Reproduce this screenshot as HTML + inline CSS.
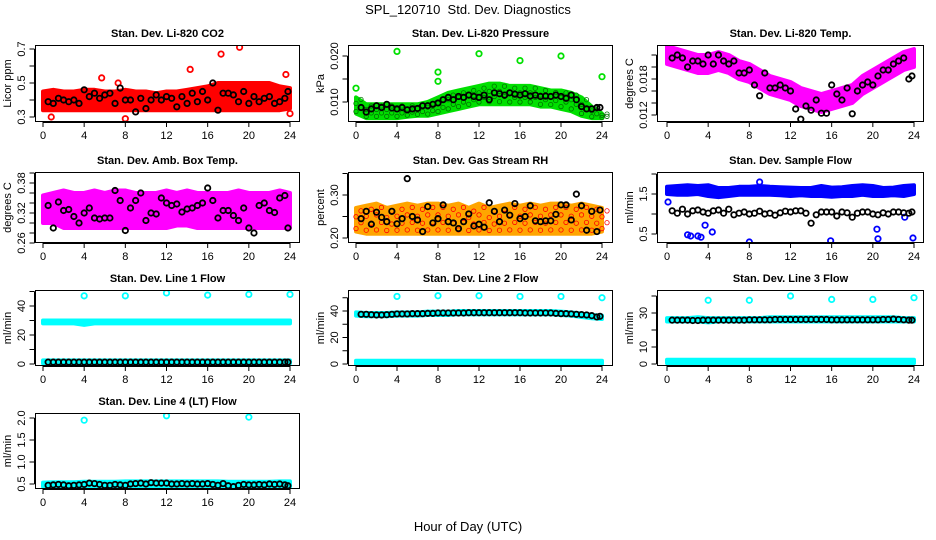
<!DOCTYPE html>
<html><head><meta charset="utf-8"><style>
body{margin:0;background:#fff;}
svg{display:block;font-family:"Liberation Sans",Arial,sans-serif;}
</style></head><body>
<svg id="chart" width="936" height="540" viewBox="0 0 936 540" xmlns="http://www.w3.org/2000/svg">
<text x="468" y="14" text-anchor="middle" font-size="13">SPL_120710&#160; Std. Dev. Diagnostics</text>
<text x="468" y="531" text-anchor="middle" font-size="13">Hour of Day (UTC)</text>
</svg>
<script>
// ---- data ----
const bandHours=[0,1,2,3,4,5,6,7,8,9,10,11,12,13,14,15,16,17,18,19,20,21,22,23,24];
const blackHours=[0.5,1,1.5,2,2.5,3,3.5,4,4.5,5,5.5,6,6.5,7,7.5,8,8.5,9,9.5,10,10.5,11,11.5,12,12.5,13,13.5,14,14.5,15,15.5,16,16.5,17,17.5,18,18.5,19,19.5,20,20.5,21,21.5,22,22.5,23,23.5,23.8];
const outlierHours=[4,8,12,16,20,24];

const co2Lo=[0.34,0.34,0.34,0.34,0.34,0.34,0.34,0.34,0.34,0.34,0.34,0.34,0.34,0.34,0.34,0.34,0.34,0.34,0.34,0.34,0.34,0.34,0.34,0.34,0.35];
const co2Hi=[0.45,0.46,0.45,0.45,0.46,0.46,0.45,0.45,0.46,0.45,0.45,0.44,0.45,0.45,0.46,0.47,0.48,0.5,0.5,0.5,0.5,0.5,0.5,0.48,0.47];
const co2Black=[0.39,0.38,0.41,0.40,0.39,0.40,0.38,0.46,0.42,0.44,0.41,0.43,0.44,0.38,0.47,0.40,0.40,0.33,0.41,0.35,0.40,0.43,0.40,0.42,0.41,0.36,0.42,0.38,0.44,0.39,0.45,0.40,0.50,0.34,0.44,0.44,0.43,0.39,0.45,0.38,0.42,0.39,0.41,0.42,0.38,0.39,0.41,0.45];
const co2OutX=[17.3,19.1,14.3,0.8,8,24,23.6,5.7,7.3];
const co2OutY=[0.67,0.71,0.58,0.30,0.29,0.32,0.55,0.53,0.50];

const prLo=[0.0075,0.0065,0.0065,0.0065,0.0065,0.0068,0.007,0.007,0.0075,0.008,0.0085,0.009,0.0095,0.0095,0.0095,0.0095,0.0095,0.0095,0.009,0.009,0.0085,0.008,0.007,0.0065,0.0065];
const prHi=[0.011,0.0095,0.0095,0.0095,0.0095,0.0095,0.0095,0.010,0.011,0.012,0.0125,0.013,0.0135,0.014,0.014,0.0135,0.0135,0.0135,0.013,0.0125,0.0125,0.012,0.011,0.009,0.0075];
const prBlack=[0.0088,0.0078,0.0085,0.0092,0.0088,0.0095,0.0087,0.0085,0.0088,0.0083,0.0085,0.0086,0.0092,0.0092,0.0095,0.0098,0.0105,0.0110,0.0105,0.0112,0.0110,0.0115,0.0112,0.0110,0.0115,0.0105,0.0120,0.0118,0.0115,0.0120,0.0117,0.0115,0.0118,0.0113,0.0115,0.0112,0.0113,0.0112,0.0115,0.0112,0.0108,0.0115,0.0105,0.0090,0.0085,0.0085,0.0088,0.0088];
const prOutX=[0,4,8,12,16,20,24,8];
const prOutY=[0.013,0.021,0.0165,0.0205,0.019,0.020,0.0155,0.0145];

const tpLo=[0.0205,0.020,0.0195,0.019,0.019,0.0195,0.019,0.018,0.0175,0.0165,0.0155,0.015,0.0145,0.0135,0.013,0.0125,0.013,0.0135,0.014,0.0155,0.0165,0.0175,0.0185,0.0195,0.020];
const tpHi=[0.0235,0.023,0.0225,0.022,0.022,0.0225,0.022,0.021,0.0205,0.0195,0.0185,0.018,0.0175,0.0165,0.016,0.0155,0.016,0.0165,0.017,0.0185,0.0195,0.0205,0.0215,0.0225,0.023];
const tpBlack=[0.0215,0.022,0.0215,0.020,0.021,0.021,0.0205,0.022,0.0205,0.022,0.021,0.0205,0.021,0.019,0.019,0.0195,0.017,0.0152,0.019,0.0165,0.0165,0.017,0.0165,0.016,0.013,0.0113,0.0135,0.0128,0.0145,0.0123,0.0123,0.017,0.0155,0.0145,0.0165,0.0122,0.016,0.017,0.0175,0.017,0.0185,0.0195,0.0195,0.0205,0.021,0.0215,0.018,0.0185];

const bxLo=[0.30,0.30,0.29,0.29,0.29,0.29,0.29,0.29,0.29,0.29,0.29,0.29,0.29,0.295,0.295,0.29,0.29,0.29,0.29,0.29,0.29,0.29,0.29,0.29,0.29];
const bxHi=[0.355,0.36,0.365,0.36,0.36,0.365,0.36,0.365,0.365,0.36,0.36,0.36,0.365,0.36,0.365,0.36,0.36,0.36,0.36,0.365,0.36,0.36,0.36,0.365,0.36];
const bxBlack=[0.335,0.290,0.342,0.325,0.327,0.313,0.300,0.320,0.330,0.310,0.308,0.310,0.310,0.365,0.345,0.285,0.330,0.345,0.360,0.305,0.320,0.318,0.350,0.340,0.335,0.338,0.322,0.328,0.330,0.335,0.340,0.370,0.345,0.310,0.325,0.325,0.315,0.305,0.330,0.290,0.280,0.335,0.340,0.325,0.321,0.350,0.355,0.290];

const rhLo=[0.215,0.21,0.21,0.21,0.21,0.21,0.21,0.21,0.21,0.21,0.21,0.21,0.21,0.21,0.21,0.21,0.21,0.21,0.21,0.21,0.21,0.21,0.21,0.21,0.215];
const rhHi=[0.27,0.275,0.28,0.27,0.275,0.28,0.275,0.28,0.28,0.275,0.28,0.27,0.28,0.27,0.275,0.28,0.275,0.28,0.275,0.28,0.28,0.275,0.28,0.275,0.27];
const rhBlack=[0.245,0.262,0.232,0.260,0.248,0.238,0.262,0.233,0.245,0.338,0.25,0.242,0.215,0.273,0.235,0.245,0.277,0.238,0.235,0.222,0.238,0.256,0.228,0.232,0.225,0.282,0.262,0.238,0.265,0.253,0.280,0.245,0.250,0.275,0.240,0.238,0.240,0.240,0.255,0.277,0.277,0.242,0.302,0.275,0.218,0.262,0.215,0.265];

const sfLo=[1.50,1.48,1.48,1.50,1.45,1.42,1.45,1.48,1.48,1.48,1.48,1.47,1.45,1.47,1.45,1.45,1.43,1.45,1.45,1.48,1.45,1.45,1.47,1.45,1.50];
const sfHi=[1.68,1.70,1.72,1.70,1.72,1.65,1.65,1.68,1.68,1.70,1.68,1.67,1.66,1.65,1.65,1.70,1.66,1.67,1.70,1.72,1.70,1.65,1.66,1.70,1.72];
const sfBlack=[1.08,1.02,1.12,1.00,1.08,1.10,1.05,1.02,1.08,1.10,1.02,1.12,0.98,1.02,1.05,1.00,1.02,1.07,1.00,1.02,0.97,1.03,1.07,1.05,1.08,1.08,1.02,0.77,0.98,1.05,1.05,1.05,0.95,1.05,1.03,0.92,1.02,1.05,1.05,1.00,0.98,1.03,1.00,1.05,1.05,1.03,1.02,1.05];
const sfOutX=[3.8,2,2.3,3,3.3,3.7,4.4,8,15.9,20.4,20.5,23.1,23.9,0.1,9];
const sfOutY=[2.15,0.48,0.45,0.45,0.42,0.72,0.55,0.30,0.33,0.62,0.38,0.92,0.40,1.30,1.80];

const l1Lo=[28,28,28,28,27,28,28,28,28,28,28,28,28,28,28,28,28,28,28,28,28,28,28,28,28];
const l1Hi=[30,30,30,30,30,30,30,30,30,30,30,30,30,30,30,30,30,30,30,30,30,30,30,30,30];
const l1Low2=[0.5,0.5,0.5,0.5,0.5,0.5,0.5,0.5,0.5,0.5,0.5,0.5,0.5,0.5,0.5,0.5,0.5,0.5,0.5,0.5,0.5,0.5,0.5,0.5,0.5];
const l1High2=[2.5,2.5,2.5,2.5,2.5,2.5,2.5,2.5,2.5,2.5,2.5,2.5,2.5,2.5,2.5,2.5,2.5,2.5,2.5,2.5,2.5,2.5,2.5,2.5,2.5];
const l1Black=[1.3,1.3,1.3,1.3,1.3,1.3,1.3,1.3,1.3,1.3,1.3,1.3,1.3,1.3,1.3,1.3,1.3,1.3,1.3,1.3,1.3,1.3,1.3,1.3,1.3,1.3,1.3,1.3,1.3,1.3,1.3,1.3,1.3,1.3,1.3,1.3,1.3,1.3,1.3,1.3,1.3,1.3,1.3,1.3,1.3,1.3,1.3,1.3];
const l1Out=[47,47,49,47.5,48,48];

const l2Lo=[36.5,36,36,36,36.5,36.5,36.5,37,37,37,37.5,37.5,37.5,37.5,37.5,37.5,37.5,37.5,37.5,37.5,37,36.5,35.5,34.5,34];
const l2Hi=[39,38.5,38.5,38.5,39,39,39,39.5,39.5,39.5,40,40,40,40,40,40,40,40,40,40,39.5,39,38,37,36.5];
const l2Low2=[0,0,0,0,0,0,0,0,0,0,0,0,0,0,0,0,0,0,0,0,0,0,0,0,0];
const l2High2=[2.5,2.5,2.5,2.5,2.5,2.5,2.5,2.5,2.5,2.5,2.5,2.5,2.5,2.5,2.5,2.5,2.5,2.5,2.5,2.5,2.5,2.5,2.5,2.5,2.5];
const l2Black=[37.5,37.5,37.2,37.0,37.0,37.2,37.5,37.8,37.8,37.8,38.0,38.0,38.0,38.2,38.2,38.5,38.5,38.5,38.5,38.5,38.5,38.7,38.7,38.7,38.7,38.7,38.7,38.7,38.7,38.7,38.7,38.7,38.5,38.5,38.5,38.5,38.5,38.5,38.2,38.0,38.0,37.8,37.5,37.3,37.0,36.5,35.5,36.0];
const l2Out=[51,51.5,51.5,51,51,50];

const l3Lo=[25,25,25,25,24.5,25,25,25,25,25,25,25,25,25,25,25,25,25,25,25,25,25,25,25,25];
const l3Hi=[27,27,27,27.5,27,27,27,27,27,27,27.5,27.5,27.5,27.5,27.5,27.5,27.5,27.5,27.5,27.5,27.5,27.5,27.5,27,27];
const l3Low2=[0.5,0.5,0.5,0.5,0.5,0.5,0.5,0.5,0.5,0.5,0.5,0.5,0.5,0.5,0.5,0.5,0.5,0.5,0.5,0.5,0.5,0.5,0.5,0.5,0.5];
const l3High2=[2.5,2.5,2.5,2.5,2.5,2.5,2.5,2.5,2.5,2.5,2.5,2.5,2.5,2.5,2.5,2.5,2.5,2.5,2.5,2.5,2.5,2.5,2.5,2.5,2.5];
const l3Black=[25.8,25.8,25.8,25.8,25.6,25.6,25.8,25.8,25.8,25.8,25.8,25.8,25.8,25.8,25.8,26,26,26,26,26,26.2,26.2,26.2,26.2,26.2,26.2,26.2,26.2,26.2,26.2,26.2,26,26,26,26,26,26,26,26,26,26,26.2,26.2,26.4,26.2,26,25.8,25.8];
const l3Out=[37.5,37.5,40,38,38,39];

const l4Lo=[0.44,0.44,0.44,0.44,0.44,0.44,0.44,0.44,0.44,0.44,0.44,0.44,0.44,0.44,0.44,0.44,0.44,0.44,0.44,0.44,0.44,0.44,0.44,0.44,0.44];
const l4Hi=[0.53,0.54,0.54,0.54,0.55,0.55,0.55,0.55,0.56,0.56,0.56,0.56,0.56,0.56,0.56,0.56,0.56,0.56,0.55,0.55,0.55,0.55,0.55,0.56,0.56];
const l4Black=[0.47,0.48,0.49,0.48,0.46,0.47,0.48,0.49,0.52,0.51,0.49,0.47,0.47,0.49,0.48,0.47,0.50,0.51,0.52,0.50,0.53,0.52,0.52,0.52,0.50,0.50,0.51,0.50,0.51,0.50,0.50,0.51,0.49,0.47,0.51,0.46,0.44,0.47,0.49,0.48,0.48,0.49,0.48,0.50,0.49,0.50,0.48,0.46];
const l4OutX=[4,12,20];
const l4OutY=[1.95,2.05,2.02];

const NS="http://www.w3.org/2000/svg";
const svg=document.getElementById('chart');
function mk(tag,attrs,parent){const e=document.createElementNS(NS,tag);for(const k in attrs)e.setAttribute(k,attrs[k]);(parent||svg).appendChild(e);return e;}

const cols=[{l:35,r:300,x0:43,x24:290},{l:348,r:613,x0:356,x24:602},{l:657,r:924,x0:667,x24:914}];
const rows=[{t:45,b:122},{t:172,b:243},{t:290,b:366},{t:413,b:489}];

function panel(cfg){
  const c=cols[cfg.col],rw=rows[cfg.row];
  const g=mk('g',{});
  
  
  const X=h=>c.x0+(h/24)*(c.x24-c.x0);
  const Y=v=>cfg.p1+(v-cfg.v1)*(cfg.p2-cfg.p1)/(cfg.v2-cfg.v1);
  const clip='clip-'+cfg.name;
  const cp=mk('clipPath',{id:clip},g);mk('rect',{x:c.l,y:rw.t,width:c.r-c.l,height:rw.b-rw.t},cp);
  const pg=mk('g',{'clip-path':'url(#'+clip+')'},g);
  function band(lo,hi,nm){
    let d='';bandHours.forEach((h,i)=>{d+=(i?'L':'M')+X(h)+','+Y(hi[i]);});
    for(let i=bandHours.length-1;i>=0;i--)d+='L'+X(bandHours[i])+','+Y(lo[i]);
    const p=mk('path',{d:d+'Z',fill:cfg.color,stroke:cfg.color,'stroke-width':4,'stroke-linejoin':'round'},pg);
    
    
    if(cfg.hatch){bandHours.forEach((h,i)=>{for(let v=0;v<4;v++){const yy=lo[i]+(hi[i]-lo[i])*(v+0.5)/4;mk('circle',{cx:X(h)+(v%2)*5,cy:Y(yy),r:2.2,fill:'none',stroke:cfg.hatch,'stroke-width':0.8},pg);}});}
  }
  band(cfg.lo,cfg.hi,'colored-band');
  if(cfg.lo2)band(cfg.lo2,cfg.hi2,'colored-band-low');
  (cfg.outX||[]).forEach((h,i)=>{
    const e=mk('circle',{cx:X(h),cy:Y(cfg.outY[i]),r:2.7,fill:'none',stroke:cfg.color,'stroke-width':1.8},pg);
    
    
  });
  blackHours.forEach((h,i)=>{
    const e=mk('circle',{cx:X(h),cy:Y(cfg.black[i]),r:2.7,fill:'none',stroke:'#000','stroke-width':1.8},pg);
    
    
  });
  mk('rect',{x:c.l+0.5,y:rw.t+0.5,width:c.r-c.l-1,height:rw.b-rw.t-1,fill:'none',stroke:'#000','stroke-width':1},g);
  mk('line',{x1:X(0),x2:X(24),y1:rw.b+0.5,y2:rw.b+0.5,stroke:'#000'},g);
  [0,4,8,12,16,20,24].forEach(h=>{
    mk('line',{x1:X(h),x2:X(h),y1:rw.b,y2:rw.b+5,stroke:'#000'},g);
    const t=mk('text',{x:X(h),y:rw.b+17,'text-anchor':'middle','font-size':11},g);t.textContent=h;
    
    
  });
  const ax=c.l-0.5;
  mk('line',{x1:ax,x2:ax,y1:Y(cfg.ticks[0]),y2:Y(cfg.ticks[cfg.ticks.length-1]),stroke:'#000'},g);
  cfg.ticks.forEach((v,i)=>{
    mk('line',{x1:ax-5,x2:ax,y1:Y(v),y2:Y(v),stroke:'#000'},g);
    if(cfg.labels[i]){const lx=c.l-10,ly=Y(v);
      const t=mk('text',{x:lx,y:ly,'text-anchor':'middle','font-size':11,transform:'rotate(-90 '+lx+' '+ly+')'},g);t.textContent=cfg.labels[i];
      
      }
  });
  const tx=c.l-24,ty=(rw.t+rw.b)/2;
  const yt=mk('text',{x:tx,y:ty,'text-anchor':'middle','font-size':11,transform:'rotate(-90 '+tx+' '+ty+')'},g);yt.textContent=cfg.ylab;
  
  
  const ti=mk('text',{x:(c.l+c.r)/2,y:rw.t-8,'text-anchor':'middle','font-size':11,'font-weight':'bold'},g);ti.textContent=cfg.title;
  
  
}
panel({name:'panel-co2',col:0,row:0,title:'Stan. Dev. Li-820 CO2',ylab:'Licor ppm',color:'#ff0000',v1:0.3,p1:117,v2:0.7,p2:49,ticks:[0.3,0.4,0.5,0.6,0.7],labels:['0.3','','0.5','','0.7'],lo:co2Lo,hi:co2Hi,black:co2Black,outX:co2OutX,outY:co2OutY});
panel({name:'panel-pressure',col:1,row:0,title:'Stan. Dev. Li-820 Pressure',ylab:'kPa',color:'#00e000',hatch:'#007000',v1:0.010,p1:102,v2:0.020,p2:56,ticks:[0.010,0.015,0.020],labels:['0.010','','0.020'],lo:prLo,hi:prHi,black:prBlack,outX:prOutX,outY:prOutY});
panel({name:'panel-li-temp',col:2,row:0,title:'Stan. Dev. Li-820 Temp.',ylab:'degrees C',color:'#ff00ff',v1:0.012,p1:115,v2:0.018,p2:79,ticks:[0.012,0.014,0.016,0.018,0.020,0.022],labels:['0.012','','','0.018','',''],lo:tpLo,hi:tpHi,black:tpBlack});
panel({name:'panel-box-temp',col:0,row:1,title:'Stan. Dev. Amb. Box Temp.',ylab:'degrees C',color:'#ff00ff',v1:0.26,p1:243,v2:0.38,p2:183,ticks:[0.26,0.28,0.30,0.32,0.34,0.36,0.38,0.40],labels:['0.26','','','0.32','','','0.38',''],lo:bxLo,hi:bxHi,black:bxBlack});
panel({name:'panel-rh',col:1,row:1,title:'Stan. Dev. Gas Stream RH',ylab:'percent',color:'#ffa500',hatch:'#ff0000',v1:0.20,p1:238,v2:0.30,p2:195,ticks:[0.20,0.25,0.30,0.35],labels:['0.20','','0.30',''],lo:rhLo,hi:rhHi,black:rhBlack});
panel({name:'panel-sample-flow',col:2,row:1,title:'Stan. Dev. Sample Flow',ylab:'ml/min',color:'#0000ff',v1:0.5,p1:234,v2:1.5,p2:194,ticks:[0.5,1.0,1.5,2.0],labels:['0.5','','1.5',''],lo:sfLo,hi:sfHi,black:sfBlack,outX:sfOutX,outY:sfOutY});
panel({name:'panel-line1',col:0,row:2,title:'Stan. Dev. Line 1 Flow',ylab:'ml/min',color:'#00ffff',v1:0,p1:364,v2:40,p2:306,ticks:[0,10,20,30,40,50],labels:['0','','20','','40',''],lo:l1Lo,hi:l1Hi,lo2:l1Low2,hi2:l1High2,black:l1Black,outX:outlierHours,outY:l1Out});
panel({name:'panel-line2',col:1,row:2,title:'Stan. Dev. Line 2 Flow',ylab:'ml/min',color:'#00ffff',v1:0,p1:364,v2:40,p2:311,ticks:[0,10,20,30,40,50],labels:['0','','20','','40',''],lo:l2Lo,hi:l2Hi,lo2:l2Low2,hi2:l2High2,black:l2Black,outX:outlierHours,outY:l2Out});
panel({name:'panel-line3',col:2,row:2,title:'Stan. Dev. Line 3 Flow',ylab:'ml/min',color:'#00ffff',v1:0,p1:364,v2:30,p2:313,ticks:[0,10,20,30,40],labels:['0','10','','30',''],lo:l3Lo,hi:l3Hi,lo2:l3Low2,hi2:l3High2,black:l3Black,outX:outlierHours,outY:l3Out});
panel({name:'panel-line4',col:0,row:3,title:'Stan. Dev. Line 4 (LT) Flow',ylab:'ml/min',color:'#00ffff',v1:0.5,p1:484,v2:2.0,p2:418,ticks:[0.5,1.0,1.5,2.0],labels:['0.5','1.0','1.5','2.0'],lo:l4Lo,hi:l4Hi,black:l4Black,outX:l4OutX,outY:l4OutY});
</script>
</body></html>
